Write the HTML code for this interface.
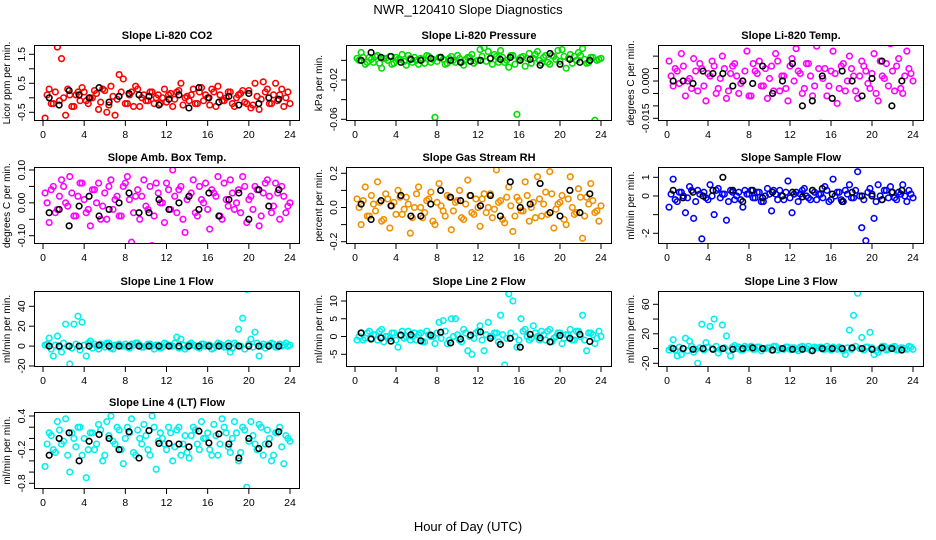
<!DOCTYPE html>
<html><head><meta charset="utf-8"><style>
html,body{margin:0;padding:0;background:#fff;}
svg{display:block;font-family:"Liberation Sans",Arial,sans-serif;}
</style></head><body>
<svg id="chart" width="936" height="540" viewBox="0 0 936 540">
<rect x="0" y="0" width="936" height="540" fill="#fff"/>
<text x="468" y="14" text-anchor="middle" font-size="13">NWR_120410  Slope Diagnostics</text>
<text x="468" y="531" text-anchor="middle" font-size="13">Hour of Day (UTC)</text>
</svg>
<script>
const xTicks=[0,4,8,12,16,20,24];
const co2Vals=[-0.7,0.3,-0.2,1.75,1.35,-0.6,0.1,-0.3,0.2,0.35,-0.1,0.0,0.25,-0.4,0.3,-0.5,0.4,-0.6,0.8,0.65,-0.2,0.2,0.4,-0.3,0.1,-0.1,0.2,0.0,-0.2,0.3,0.1,-0.3,0.2,0.5,0.0,-0.1,0.3,-0.2,0.35,0.1,-0.25,0.2,0.4,-0.1,0.0,0.2,-0.3,0.1,0.25,-0.2,-0.35,0.5,-0.4,0.55,0.3,-0.2,0.5,0.1,-0.3,0.2];
const co2Band=[0.1,-0.2,0.2,-0.1,0.0,0.3,-0.3,0.1,-0.1,0.2,-0.2,0.0,0.15,-0.15,0.25,-0.25,0.05,-0.05,0.2,-0.2,0.1,-0.3,0.3,0.0,-0.1,0.2,-0.2,0.1,0.0,-0.15,0.15,-0.05,0.25,-0.25,0.05,0.1,-0.2,0.2,-0.1,0.0,0.3,-0.3,0.1,-0.1,0.2,-0.2,0.0,0.15,-0.15,0.25,-0.25,0.05,-0.05,0.2,-0.2,0.1,-0.1,0.3,0.0,-0.2];
const co2Ref=[0.0,-0.25,0.25,0.1,0.0,0.35,-0.15,0.05,0.15,0.1,0.05,-0.25,-0.05,0.1,-0.35,0.35,0.0,-0.15,0.05,-0.25,0.15,-0.2,0.0,-0.05];
const presVals=[0.002,0.008,-0.004,0.003,-0.002,0.005,-0.008,0.002,0.004,-0.003,0.001,0.006,-0.005,0.002,0.003,-0.004,0.001,0.005,-0.002,-0.058,0.003,0.001,-0.003,0.004,-0.002,0.002,-0.005,0.003,0.006,-0.001,0.011,0.013,0.009,-0.004,0.004,0.01,-0.002,-0.007,0.005,-0.055,0.003,-0.006,0.007,0.002,0.009,-0.003,0.005,-0.004,0.004,0.01,0.011,-0.008,0.006,0.004,0.008,0.012,-0.003,0.003,-0.061,0.001];
const presBand=[0.0,0.003,-0.002,0.001,0.004,-0.003,0.002,0.0,-0.004,0.003,0.001,-0.001,0.005,-0.002,0.0,0.002,-0.003,0.004,0.001,-0.001,0.003,-0.004,0.002,0.0,0.005,-0.002,0.001,0.003,-0.003,0.0,0.004,-0.001,0.002,0.006,-0.002,0.003,0.0,0.005,-0.004,0.001,0.004,0.002,-0.003,0.006,0.0,0.003,-0.002,0.005,0.001,-0.001,0.004,0.002,-0.003,0.0,0.005,0.001,-0.002,0.003,0.0,0.002];
const presRef=[0.0,0.008,0.003,0.004,-0.002,0.001,0.0,0.002,0.003,0.0,-0.002,-0.001,0.0,0.002,0.001,0.003,0.0,0.001,-0.005,0.007,-0.004,0.001,-0.002,0.0];
const tempVals=[0.008,-0.002,0.004,0.011,-0.006,0.001,0.009,-0.004,0.005,-0.008,0.002,0.006,-0.003,0.01,-0.007,0.003,0.007,-0.005,0.0,0.012,-0.006,0.004,0.008,-0.002,-0.007,0.006,0.011,-0.004,0.002,-0.008,0.009,0.013,0.003,-0.003,0.007,-0.006,0.014,-0.017,0.005,-0.002,0.012,-0.009,0.006,-0.004,0.01,0.002,-0.007,0.008,0.004,-0.003,0.011,-0.008,0.002,0.007,0.015,-0.004,0.009,-0.005,0.012,0.003];
const tempBand=[0.002,0.005,-0.001,0.006,0.0,-0.003,0.004,0.007,-0.002,0.003,0.008,-0.005,0.001,0.005,-0.004,0.006,0.002,-0.001,0.004,-0.006,0.007,0.003,-0.002,0.005,0.001,-0.004,0.008,0.002,-0.003,0.006,0.0,0.004,-0.005,0.007,0.002,-0.002,0.005,0.001,-0.006,0.004,0.003,-0.003,0.007,0.0,0.005,-0.004,0.002,0.006,-0.001,0.003,-0.005,0.008,0.001,-0.002,0.004,0.006,-0.003,0.002,0.005,0.0];
const tempRef=[0.0,0.0,-0.001,0.004,0.003,0.003,-0.002,0.0,-0.001,0.006,-0.005,0.0,0.007,-0.01,-0.008,0.002,-0.007,0.004,0.0,-0.006,0.001,0.008,-0.01,0.0];
const ambVals=[0.03,-0.06,0.05,-0.02,0.07,0.0,0.08,-0.04,0.02,0.06,-0.03,-0.07,0.04,0.06,-0.01,-0.05,0.07,0.01,-0.04,0.05,0.08,-0.12,0.02,-0.05,0.07,-0.02,-0.13,0.06,0.0,-0.06,0.04,0.1,-0.03,0.05,-0.09,0.02,0.07,-0.04,0.01,0.06,-0.08,0.03,0.08,-0.05,0.01,0.07,-0.02,0.04,0.08,-0.06,0.02,0.05,-0.07,0.03,0.07,-0.03,0.06,-0.05,0.02,-0.01];
const ambBand=[0.0,0.04,-0.03,0.02,0.05,-0.01,0.03,-0.04,0.06,0.01,-0.02,0.04,0.0,-0.05,0.03,0.05,-0.02,0.02,-0.04,0.06,0.01,-0.03,0.04,0.02,-0.01,0.05,-0.04,0.03,0.0,0.06,-0.02,0.02,0.04,-0.05,0.01,0.03,-0.03,0.05,0.0,-0.02,0.04,0.02,-0.04,0.06,-0.01,0.03,0.0,-0.03,0.05,0.01,-0.02,0.04,-0.04,0.06,0.02,-0.01,0.03,0.05,-0.03,0.0];
const ambRef=[-0.03,-0.02,-0.07,-0.01,0.02,-0.04,-0.02,0.0,0.03,-0.03,-0.03,0.01,-0.02,0.0,0.02,-0.02,0.03,-0.04,0.01,0.03,-0.05,0.04,-0.01,0.04];
const rhVals=[0.05,-0.1,0.12,-0.05,0.02,0.15,-0.08,0.08,-0.12,0.03,0.1,-0.04,0.06,-0.15,0.0,0.12,-0.06,0.04,0.09,-0.1,0.14,-0.02,0.07,-0.13,0.03,0.1,-0.07,0.16,-0.03,0.05,-0.11,0.08,0.0,-0.06,0.22,0.04,-0.09,0.12,-0.14,0.06,-0.02,0.15,-0.08,0.03,0.18,-0.05,0.09,0.21,-0.12,0.02,0.07,-0.1,0.18,-0.04,0.11,-0.18,0.06,0.14,-0.03,-0.08];
const rhBand=[0.0,0.04,-0.05,0.07,-0.02,0.03,-0.07,0.05,0.01,-0.04,0.06,-0.01,0.02,-0.06,0.08,0.0,-0.03,0.05,-0.08,0.03,0.01,-0.05,0.06,-0.02,0.04,-0.06,0.02,0.07,-0.04,0.0,0.05,-0.03,0.08,-0.01,0.03,-0.07,0.06,0.01,-0.05,0.04,-0.02,0.07,0.0,-0.06,0.05,0.02,-0.04,0.08,-0.01,0.03,-0.07,0.05,0.0,-0.03,0.06,-0.05,0.02,0.04,-0.02,0.01];
const rhRef=[0.02,-0.07,0.04,0.01,0.07,-0.05,-0.05,0.02,0.1,0.06,0.04,0.07,0.01,0.07,-0.05,0.15,0.0,0.02,0.14,-0.03,-0.05,0.1,-0.03,0.08];
const sampVals=[-0.6,0.9,-0.3,0.2,-0.9,0.5,-1.2,0.3,-2.3,-0.1,0.6,-1.0,0.4,0.1,-1.3,0.3,-0.2,0.2,-0.6,0.1,0.3,-0.1,0.2,-0.3,0.4,-0.8,0.1,0.3,-0.2,0.8,-0.9,0.2,0.1,0.4,-0.1,0.3,-0.2,0.1,0.5,-0.3,0.9,0.2,-0.2,0.3,0.6,-0.1,1.3,-1.7,-2.4,0.4,-1.2,0.6,-0.2,0.3,0.5,-0.1,0.2,0.6,-0.3,0.1];
const sampBand=[0.1,-0.2,0.2,0.0,-0.1,0.3,-0.3,0.1,0.2,-0.2,0.0,0.3,-0.1,0.1,-0.3,0.2,0.0,-0.2,0.3,0.1,-0.1,0.2,-0.3,0.0,0.1,0.3,-0.2,0.0,0.2,-0.1,0.1,-0.3,0.3,0.0,-0.2,0.2,0.1,-0.1,0.3,-0.2,0.0,0.2,-0.3,0.1,-0.1,0.3,0.0,-0.2,0.2,0.1,-0.3,0.0,0.3,-0.1,0.2,-0.2,0.1,0.0,0.3,-0.1];
const sampRef=[0.3,-0.1,0.2,0.0,0.3,1.0,0.3,-0.3,0.3,-0.1,0.2,0.0,0.2,-0.05,0.3,0.4,0.1,-0.3,0.2,0.0,0.0,-0.2,0.2,0.3];
const l1Vals=[1,8,-10,10,-6,22,-18,22,30,24,-10,5,2,-3,1,3,-2,1,2,0,-1,2,3,1,-1,2,0,1,-2,3,1,0,9,7,-3,2,1,-1,2,0,1,-2,3,1,-1,-6,3,17,28,57,7,14,-10,2,1,3,-1,2,1,0];
const l1Band=[2,-3,1,-1,3,0,-2,2,-4,1,3,-2,0,2,-1,3,-3,1,0,2,-2,1,3,-1,0,2,-3,1,-1,2,0,3,-2,1,-1,3,0,-2,2,1,-3,0,2,-1,3,-2,1,0,-3,2,-1,3,0,-2,1,2,-1,0,3,1];
const l1Ref=[0,0,0,0,0,1,0,0,0,0,0,0,0,0,0,0,0,0,0,0,0,0,0,0];
const l2Vals=[-1,1,-0.5,1.5,0.5,-1,2,0,-0.5,1,-3,1.5,0,-1,1,0.5,-1.5,1.5,0,-2,4,4.5,-2,5,5,-1,2,-4,-5,1,3,-4,4,0,1,6,-8,12,10,-3,5,2,-1,3,0,1.5,-1,2,-0.5,1,-2,0.5,2,-1,1.5,6,-4,1,-2,1.5];
const l2Band=[0,-1,1,-0.5,0.5,1.5,-1.5,0,1,-1,0.5,-0.5,1.5,0,-1,1,-1.5,0.5,0,1,-0.5,1.5,-1,0,0.5,-1.5,1,0,-0.5,1.5,-1,0.5,0,1,-1.5,0.5,-0.5,1,0,-1,1.5,0,-0.5,1,-1,0.5,1.5,-1.5,0,1,-0.5,0.5,-1,1.5,0,-1,1,0.5,-0.5,0];
const l2Ref=[1,-0.7,-0.4,-1.3,0.4,0.5,-1.2,0.4,1.2,-1.8,-0.7,0.4,1.3,-0.5,-2.2,-0.5,-3,0.6,-0.4,-1.5,0.3,-0.5,0.6,-1.4];
const l3Vals=[-2,12,-10,-8,14,10,-5,-20,33,8,30,40,-6,32,17,-10,4,2,-2,1,3,-1,2,0,1,-2,3,0,-1,2,1,-1,2,0,3,-2,1,2,-1,0,2,-1,1,-8,25,45,75,15,2,22,-8,-5,3,-2,1,3,-2,1,-1,2];
const l3Band=[1,-2,2,0,-3,3,-1,1,-2,2,0,3,-1,1,-3,2,0,-2,3,1,-1,2,-3,0,1,3,-2,0,2,-1,1,-3,3,0,-2,2,1,-1,3,-2,0,2,-3,1,-1,3,0,-2,2,1,-3,0,3,-1,2,-2,1,0,3,-1];
const l3Ref=[0,0,-1,0,-1,0,-1,0,1,0,-2,0,-1,-1,-3,0,0,0,1,0,-1,1,0,-2];
const l4Vals=[-0.5,0.1,-0.2,0.3,-0.1,0.35,-0.6,0.0,0.2,-0.3,-0.7,0.1,-0.2,0.25,-0.4,0.3,0.4,-0.1,0.15,-0.45,0.2,0.35,-0.3,0.0,0.25,-0.2,0.4,-0.55,0.1,-0.1,0.2,-0.4,0.15,-0.3,0.05,-0.35,0.2,-0.1,0.3,0.0,-0.2,0.25,-0.3,0.35,0.1,-0.25,0.3,-0.4,0.2,-0.87,0.3,-0.1,0.25,-0.3,0.15,-0.4,0.1,0.2,-0.45,0.0];
const l4Band=[-0.1,0.05,-0.25,0.15,-0.05,-0.3,0.1,-0.15,0.2,0.0,-0.2,0.1,-0.1,0.15,-0.3,0.05,-0.05,0.2,-0.2,0.0,0.1,-0.25,0.15,-0.1,0.05,-0.3,0.2,-0.05,0.0,-0.2,0.1,-0.15,0.2,-0.1,-0.25,0.05,0.15,-0.2,0.0,0.1,-0.3,0.05,-0.1,0.2,-0.15,0.0,0.1,-0.25,0.15,-0.05,0.05,-0.2,0.2,-0.1,0.0,-0.3,0.1,-0.15,0.05,-0.05];
const l4Ref=[-0.3,0.0,0.1,-0.4,-0.05,0.07,0.0,-0.2,0.12,-0.35,0.14,-0.09,-0.09,-0.1,-0.15,0.13,-0.08,0.08,-0.1,-0.35,0.0,-0.18,-0.1,0.12];
const co2Ticks=[-0.5,0,0.5,1,1.5], co2Labels=["-0.5","","0.5","","1.5"];
const presTicks=[0,-0.02,-0.04,-0.06], presLabels=["","-0.02","","-0.06"];
const tempTicks=[0.01,0.005,0,-0.005,-0.01,-0.015], tempLabels=["","","0.000","","","-0.015"];
const ambTicks=[0.1,0.05,0,-0.05,-0.1], ambLabels=["0.10","","0.00","","-0.10"];
const rhTicks=[0.2,0.1,0,-0.1,-0.2], rhLabels=["0.2","","0.0","","-0.2"];
const sampTicks=[1,0,-1,-2], sampLabels=["1","0","","-2"];
const l1Ticks=[40,20,0,-20], l1Labels=["40","20","0","-20"];
const l2Ticks=[10,5,0,-5], l2Labels=["10","5","0","-5"];
const l3Ticks=[60,40,20,0,-20], l3Labels=["60","","20","","-20"];
const l4Ticks=[0.4,0.2,0,-0.2,-0.4,-0.6,-0.8], l4Labels=["0.4","","","-0.2","","","-0.8"];

const NS="http://www.w3.org/2000/svg";
const svg=document.getElementById('chart');
const cols=[{bl:34,br:300,x0:43,x24:290},{bl:346,br:612,x0:355,x24:601},{bl:658,br:924,x0:667,x24:913}];
const rows=[{t:45,b:121},{t:167,b:244},{t:291,b:367},{t:412,b:489}];
const panels=[
 {name:'co2',title:'Slope Li-820 CO2',ylab:'Licor ppm per min.',c:0,r:0,vals:co2Vals,band:co2Band,ref:co2Ref,ticks:co2Ticks,labels:co2Labels,a:[1.5,54.3,-0.5,112.3],col:'#ff0000'},
 {name:'pressure',title:'Slope Li-820 Pressure',ylab:'kPa per min.',c:1,r:0,vals:presVals,band:presBand,ref:presRef,ticks:presTicks,labels:presLabels,a:[-0.02,80,-0.06,119.3],col:'#00dd00'},
 {name:'temp',title:'Slope Li-820 Temp.',ylab:'degrees C per min.',c:2,r:0,vals:tempVals,band:tempBand,ref:tempRef,ticks:tempTicks,labels:tempLabels,a:[0,81,-0.015,118.3],col:'#ff00ff'},
 {name:'amb-box-temp',title:'Slope Amb. Box Temp.',ylab:'degrees C per min.',c:0,r:1,vals:ambVals,band:ambBand,ref:ambRef,ticks:ambTicks,labels:ambLabels,a:[0.1,170,-0.1,235.7],col:'#ff00ff'},
 {name:'gas-stream-rh',title:'Slope Gas Stream RH',ylab:'percent per min.',c:1,r:1,vals:rhVals,band:rhBand,ref:rhRef,ticks:rhTicks,labels:rhLabels,a:[0.2,173.3,-0.2,241.7],col:'#f09000'},
 {name:'sample-flow',title:'Slope Sample Flow',ylab:'ml/min per min.',c:2,r:1,vals:sampVals,band:sampBand,ref:sampRef,ticks:sampTicks,labels:sampLabels,a:[1,177.3,-2,233.3],col:'#0000ff'},
 {name:'line1-flow',title:'Slope Line 1 Flow',ylab:'ml/min per min.',c:0,r:2,vals:l1Vals,band:l1Band,ref:l1Ref,ticks:l1Ticks,labels:l1Labels,a:[40,306.3,-20,366],col:'#00f0f0'},
 {name:'line2-flow',title:'Slope Line 2 Flow',ylab:'ml/min per min.',c:1,r:2,vals:l2Vals,band:l2Band,ref:l2Ref,ticks:l2Ticks,labels:l2Labels,a:[10,301,-5,354.3],col:'#00f0f0'},
 {name:'line3-flow',title:'Slope Line 3 Flow',ylab:'ml/min per min.',c:2,r:2,vals:l3Vals,band:l3Band,ref:l3Ref,ticks:l3Ticks,labels:l3Labels,a:[60,304.3,-20,363.3],col:'#00f0f0'},
 {name:'line4-flow',title:'Slope Line 4 (LT) Flow',ylab:'ml/min per min.',c:0,r:3,vals:l4Vals,band:l4Band,ref:l4Ref,ticks:l4Ticks,labels:l4Labels,a:[0.4,416,-0.8,483.3],col:'#00f0f0'}
];
function mk(tag,attrs,parent){const e=document.createElementNS(NS,tag);for(const k in attrs)e.setAttribute(k,attrs[k]);(parent||svg).appendChild(e);return e;}
panels.forEach(p=>{
 const C=cols[p.c],R=rows[p.r];
 const g=mk('g',{});
 
 
 const xs=v=>C.x0+v/24*(C.x24-C.x0);
 const ys=v=>p.a[1]+(v-p.a[0])*(p.a[3]-p.a[1])/(p.a[2]-p.a[0]);
 const cp=mk('clipPath',{id:'clip-'+p.name},g);
 mk('rect',{x:C.bl,y:R.t,width:C.br-C.bl,height:R.b-R.t},cp);
 const pts=mk('g',{'clip-path':'url(#clip-'+p.name+')',fill:'none','stroke-width':'1.6'},g);
 
 
 p.band.forEach((v,i)=>{
  const c=mk('circle',{cx:xs(0.4+i*0.4),cy:ys(v),r:2.8,stroke:p.col},pts);
  
  
 });
 p.vals.forEach((v,i)=>{
  const c=mk('circle',{cx:xs(0.2+i*0.4),cy:ys(v),r:2.8,stroke:p.col},pts);
  
  
 });
 p.ref.forEach((v,i)=>{
  const c=mk('circle',{cx:xs(0.6+i*0.97),cy:ys(v),r:2.8,stroke:'#000'},pts);
  
  
 });
 const box=mk('rect',{x:C.bl+0.5,y:R.t+0.5,width:C.br-C.bl-1,height:R.b-R.t-1,fill:'none',stroke:'#000','stroke-width':1},g);
 
 
 const t=mk('text',{x:(C.bl+C.br)/2,y:R.t-6,'text-anchor':'middle','font-size':'11','font-weight':'bold'},g);
 t.textContent=p.title;
 
 
 xTicks.forEach(v=>{
  mk('line',{x1:xs(v),x2:xs(v),y1:R.b,y2:R.b+5,stroke:'#000'},g);
  const l=mk('text',{x:xs(v),y:R.b+17,'text-anchor':'middle','font-size':'10.5'},g);
  l.textContent=v;
  
  
 });
 p.ticks.forEach((v,i)=>{
  const y=ys(v);
  mk('line',{x1:C.bl-5,x2:C.bl,y1:y,y2:y,stroke:'#000'},g);
  if(p.labels[i]){
   const l=mk('text',{x:C.bl-9,y:y,'text-anchor':'middle','font-size':'10.5',transform:'rotate(-90 '+(C.bl-9)+' '+y+')'},g);
   l.textContent=p.labels[i];
   
   
  }
 });
 const yc=(R.t+R.b)/2, xl=C.bl-24;
 const yl=mk('text',{x:xl,y:yc,'text-anchor':'middle','font-size':'10',transform:'rotate(-90 '+xl+' '+yc+')'},g);
 yl.textContent=p.ylab;
 
 
});
</script>
</body></html>
